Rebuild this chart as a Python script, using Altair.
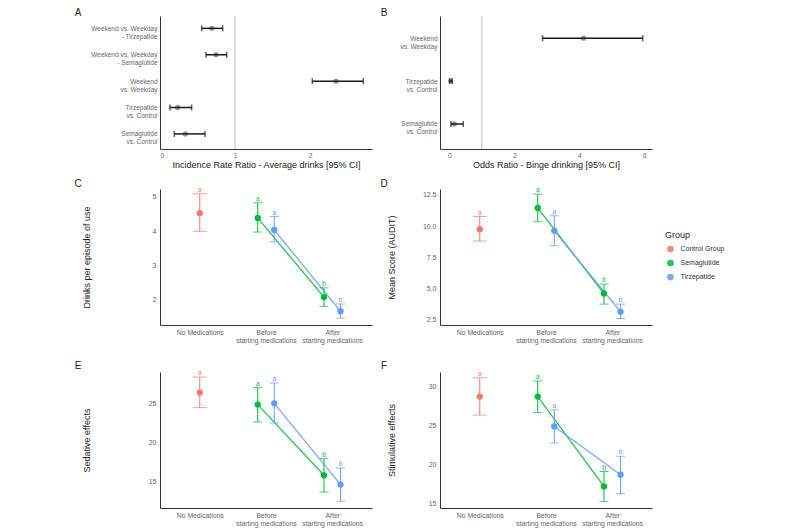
import json
import altair as alt
import pandas as pd

FONT = "Liberation Sans"

# ---------------- Panel A: Incidence Rate Ratio ----------------
A_labels = ["Weekend vs. Weekday\n- Tirzepatide", "Weekend vs. Weekday\n- Semaglutide",
            "Weekend\nvs. Weekday", "Tirzepatide\nvs. Control", "Semaglutide\nvs. Control"]
A_est = [0.69, 0.747, 2.347, 0.236, 0.338]
A_lo = [0.556, 0.613, 2.031, 0.133, 0.191]
A_hi = [0.836, 0.889, 2.711, 0.422, 0.600]
A_ticks = [0, 1, 2]

# ---------------- Panel B: Odds Ratio ----------------
B_labels = ["Weekend\nvs. Weekday", "Tirzepatide\nvs. Control", "Semaglutide\nvs. Control"]
B_est = [4.13, 0.04, 0.15]
B_lo = [2.87, 0.01, 0.05]
B_hi = [5.95, 0.09, 0.43]
B_ticks = [0, 2, 4, 6]

REF_LINE = [1]

# ---------------- Panels C-F ----------------
GROUPS = ["Control Group", "Semaglutide", "Tirzepatide"]
COLORS = ["#F8766D", "#00BA38", "#619CFF"]
STAGES = ["No Medications", "Before\nstarting medications", "After\nstarting medications"]
ROW_GROUPS = ["Control Group", "Semaglutide", "Tirzepatide", "Semaglutide", "Tirzepatide"]
ROW_STAGES = [STAGES[0], STAGES[1], STAGES[1], STAGES[2], STAGES[2]]
LETTERS = ["a", "a", "a", "b", "b"]

C_mean = [4.52, 4.38, 4.03, 2.08, 1.67]
C_lo = [3.99, 3.97, 3.69, 1.81, 1.47]
C_hi = [5.08, 4.82, 4.42, 2.35, 1.88]

D_mean = [9.75, 11.44, 9.62, 4.60, 3.14]
D_lo = [8.80, 10.34, 8.42, 3.75, 2.60]
D_hi = [10.76, 12.55, 10.82, 5.35, 3.75]

E_mean = [26.42, 24.87, 25.04, 15.77, 14.57]
E_lo = [24.49, 22.63, 22.50, 13.62, 12.43]
E_hi = [28.42, 27.06, 27.65, 17.92, 16.71]

F_mean = [28.76, 28.76, 24.92, 17.21, 18.71]
F_lo = [26.38, 26.71, 22.80, 15.29, 16.28]
F_hi = [31.19, 30.77, 27.06, 19.13, 21.09]

W, H = 212, 136
H1 = 133
LABEL_C = "#666666"
TITLE_C = "#222222"
AXIS_C = "#333333"


def panel_letter(letter, dx, dy):
    return alt.Chart(pd.DataFrame({"panel": [letter]})).mark_text(
        fontSize=10, align="center", baseline="middle", color=TITLE_C
    ).encode(x=alt.value(dx), y=alt.value(dy), text="panel:N")


def forest(labels, est, lo, hi, xdom, xticks, xtitle, letter, ldx, pad, align):
    df = pd.DataFrame({"label": labels, "est": est, "lo": lo, "hi": hi})
    xax = alt.Axis(values=xticks, title=xtitle, ticks=False, grid=False,
                   domainColor=AXIS_C, domainWidth=1, labelFontSize=6.5,
                   labelColor=LABEL_C, labelPadding=3, titleFontSize=9,
                   titleFontWeight="normal", titleColor=TITLE_C, titleX=W / 2,
                   titleY=15.5, titleBaseline="middle", titleAlign="center")
    xsc = alt.Scale(domain=xdom, nice=False, zero=False)

    def X(f):
        return alt.X(f"{f}:Q", scale=xsc, axis=xax)

    Y = alt.Y("label:N", sort=labels,
              scale=alt.Scale(type="point", padding=pad, align=align, domain=labels),
              axis=alt.Axis(title=None, labelExpr="split(datum.label, '\\n')",
                            labelAlign="right", labelBaseline="middle",
                            labelFontSize=6.5, labelLineHeight=8,
                            labelColor=LABEL_C, labelPadding=3, ticks=False,
                            grid=False, domainColor=AXIS_C, domainWidth=1))
    base = alt.Chart(df)
    vline = alt.Chart(pd.DataFrame({"ref": REF_LINE})).mark_rule(
        color="#bdbdbd", strokeWidth=1).encode(x=X("ref"))
    pts = base.mark_point(filled=True, color="#9a9a9a", size=28, opacity=1).encode(x=X("est"), y=Y)
    bars = base.mark_rule(color="#1a1a1a", strokeWidth=1.5).encode(x=X("lo"), x2="hi:Q", y=Y)
    cap_lo = base.mark_tick(orient="vertical", color="#1a1a1a", thickness=1.5, size=6).encode(x=X("lo"), y=Y)
    cap_hi = base.mark_tick(orient="vertical", color="#1a1a1a", thickness=1.5, size=6).encode(x=X("hi"), y=Y)
    return alt.layer(vline, pts, bars, cap_lo, cap_hi, panel_letter(letter, ldx, -3)).properties(
        width=W, height=H1)


XPOS = ("indexof(%s, datum.stage) + (datum.group == 'Semaglutide' ? -0.125 : "
        "(datum.group == 'Tirzepatide' ? 0.125 : 0))") % json.dumps(STAGES)
XLABELS = "split(%s[datum.value], '\\n')" % json.dumps(STAGES)


def dots(mean, lo, hi, ydom, yticks, yfmt, ytitle, title_x, letter, ldx, ldy, legend=False):
    df = pd.DataFrame({"group": ROW_GROUPS, "stage": ROW_STAGES, "mean": mean,
                       "lo": lo, "hi": hi, "letter": LETTERS})
    base = alt.Chart(df).transform_calculate(xpos=XPOS)
    X = alt.X("xpos:Q", scale=alt.Scale(domain=[-0.6, 2.6], nice=False, zero=False),
              axis=alt.Axis(values=[0, 1, 2], labelExpr=XLABELS, title=None, ticks=False,
                            grid=False, domainColor=AXIS_C, domainWidth=1,
                            labelFontSize=6.8, labelLineHeight=8.5, labelColor=LABEL_C,
                            labelPadding=4, labelBaseline="top", labelAlign="center"))
    ysc = alt.Scale(domain=ydom, nice=False, zero=False)
    yax = alt.Axis(values=yticks, format=yfmt, title=ytitle, ticks=False, grid=False,
                   domainColor=AXIS_C, domainWidth=1, labelFontSize=7, labelColor=LABEL_C,
                   labelPadding=4, titleFontSize=9, titleFontWeight="normal",
                   titleColor=TITLE_C, titleX=title_x, titleY=H / 2, titleAngle=270,
                   titleAlign="center", titleBaseline="middle")

    def Y(f):
        return alt.Y(f"{f}:Q", scale=ysc, axis=yax)

    csc = alt.Scale(domain=GROUPS, range=COLORS)
    if legend:
        col_other = alt.Color("group:N", scale=csc)
        col_pts = alt.Color("group:N", scale=csc, legend=alt.Legend(
            title="Group", orient="none", legendX=225, legendY=41.5, symbolType="circle",
            symbolSize=45, symbolStrokeWidth=0, symbolOffset=2, labelOffset=6.5,
            rowPadding=6, titlePadding=6, padding=0, labelFontSize=7, labelColor="#333333",
            titleFontSize=9, titleFontWeight="normal", titleColor=TITLE_C))
    else:
        col_other = alt.Color("group:N", scale=csc, legend=None)
        col_pts = col_other

    lines = base.mark_line(strokeWidth=1.3, opacity=0.85).encode(x=X, y=Y("mean"), color=col_other)
    err = base.mark_rule(strokeWidth=1).encode(x=X, y=Y("lo"), y2="hi:Q", color=col_other)
    capsize = alt.condition("datum.group == 'Control Group'", alt.value(14), alt.value(9))
    cap_lo = base.mark_tick(orient="horizontal", thickness=1).encode(x=X, y=Y("lo"), color=col_other, size=capsize)
    cap_hi = base.mark_tick(orient="horizontal", thickness=1).encode(x=X, y=Y("hi"), color=col_other, size=capsize)
    pts = base.mark_circle(size=40, opacity=1).encode(x=X, y=Y("mean"), color=col_pts)
    lets = base.mark_text(fontSize=6.5, dy=-2, baseline="alphabetic").encode(
        x=X, y=Y("hi"), text="letter:N", color=col_other)
    return alt.layer(lines, err, cap_lo, cap_hi, pts, lets, panel_letter(letter, ldx, ldy)).properties(
        width=W, height=H)


A = forest(A_labels, A_est, A_lo, A_hi, [0, 2.827], A_ticks,
           "Incidence Rate Ratio - Average drinks [95% CI]", "A", -82, 0.52, 0.45)
B = forest(B_labels, B_est, B_lo, B_hi, [-0.286, 6.237], B_ticks,
           "Odds Ratio - Binge drinking [95% CI]", "B", -56, 0.55, 0.47)
C = dots(C_mean, C_lo, C_hi, [1.27, 5.22], [2, 3, 4, 5], "d", "Drinks per episode of use",
         -73.5, "C", -82, -5)
D = dots(D_mean, D_lo, D_hi, [2.08, 12.96], [2.5, 5, 7.5, 10, 12.5], ".1f",
         "Mean Score (AUDIT)", -49, "D", -56, -5, legend=True)
E = dots(E_mean, E_lo, E_hi, [11.56, 29.07], [15, 20, 25], "d", "Sedative effects",
         -74, "E", -82, -6)
F = dots(F_mean, F_lo, F_hi, [14.44, 31.92], [15, 20, 25, 30], "d", "Stimulative effects",
         -49, "F", -56, -6)


def indep(c):
    return c.resolve_scale(color="independent").resolve_legend(color="independent")


HS = 8
row1 = indep(alt.hconcat(A, B, spacing=HS))
row2 = indep(alt.hconcat(C, D, spacing=HS))
row3 = indep(alt.hconcat(E, F, spacing=HS))
top = indep(alt.vconcat(row1, row2, spacing=9))
chart = indep(alt.vconcat(top, row3, spacing=16))

chart = chart.properties(
    padding={"left": 66, "top": 0, "right": 5, "bottom": 0},
    background="white",
).configure(font=FONT).configure_view(stroke=None)

chart.save("out.html", embed_options={"renderer": "svg", "actions": False})
